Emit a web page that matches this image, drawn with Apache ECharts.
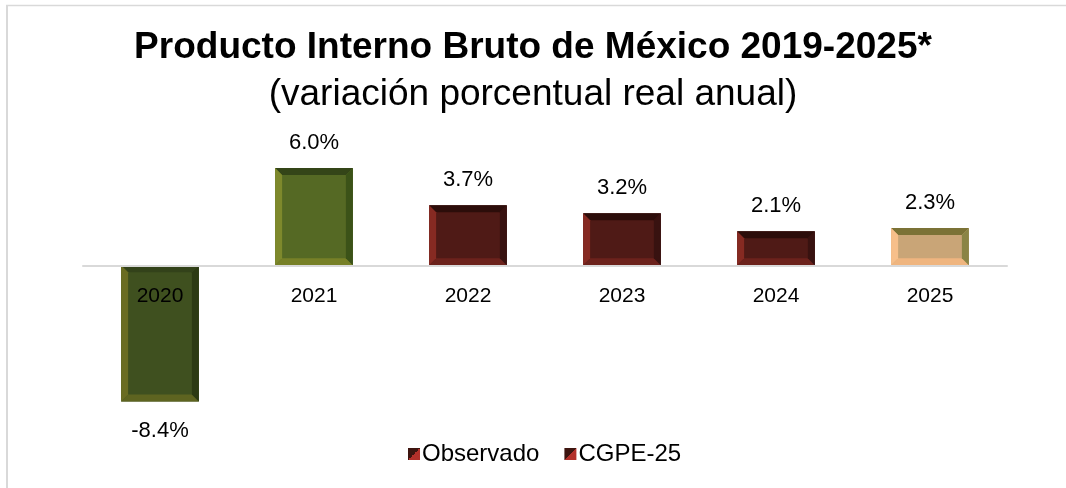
<!DOCTYPE html>
<html>
<head>
<meta charset="utf-8">
<script src="https://cdn.jsdelivr.net/npm/echarts@6/dist/echarts.min.js"></script>
<style>html,body{margin:0;padding:0;background:#fff;}#c{width:1066px;height:488px;}</style>
</head>
<body>
<div id="c"></div>
<script>
// ---- data ----
const categories = ['2020', '2021', '2022', '2023', '2024', '2025'];
const values = [-8.4, 6.0, 3.7, 3.2, 2.1, 2.3];
const seriesOf = ['Observado', 'Observado', 'CGPE-25', 'CGPE-25', 'CGPE-25', 'CGPE-25'];
const seriesNames = ['Observado', 'CGPE-25'];

// ---- styles (per bar) : face, top, left, right, bottom ----
const palette = [
  {face:'#3f501f', top:'#33421a', left:'#6a6c22', right:'#2c3a13', bottom:'#5e6420'},
  {face:'#556924', top:'#344518', left:'#7e892c', right:'#3b5218', bottom:'#778027'},
  {face:'#4f1a16', top:'#2c0d0a', left:'#862a22', right:'#381210', bottom:'#6c221c'},
  {face:'#4f1a16', top:'#2c0d0a', left:'#862a22', right:'#381210', bottom:'#6c221c'},
  {face:'#4f1a16', top:'#2c0d0a', left:'#862a22', right:'#381210', bottom:'#6c221c'},
  {face:'#c9a577', top:'#7b7236', left:'#f7bf8a', right:'#8a8445', bottom:'#efb57f'}
];
const FONT = 'Liberation Sans, Arial, sans-serif';
const legendIcon = {type:'linear', x:0, y:0, x2:1, y2:1, colorStops:[
  {offset:0, color:'#3d1510'},{offset:0.5, color:'#3d1510'},
  {offset:0.5, color:'#b3302a'},{offset:1, color:'#b3302a'}]};

function renderBar(params, api) {
  const idx = api.value(0);
  const v = api.value(1);
  const p0 = api.coord([idx, 0]);
  const p1 = api.coord([idx, v]);
  const w = api.size([1, 0])[0] * 0.505;
  const x0 = p0[0] - w / 2, x1 = p0[0] + w / 2;
  const yt = Math.min(p0[1], p1[1]), yb = Math.max(p0[1], p1[1]);
  const b = 7;
  const c = palette[idx];
  const poly = (pts, col) => ({type:'polygon', shape:{points:pts}, style:{fill:col}});
  const children = [
    {type:'rect', shape:{x:x0, y:yt, width:w, height:yb-yt}, style:{fill:c.face}},
    poly([[x0,yt],[x1,yt],[x1-b,yt+b],[x0+b,yt+b]], c.top),
    poly([[x0,yb],[x1,yb],[x1-b,yb-b],[x0+b,yb-b]], c.bottom),
    poly([[x0,yt],[x0+b,yt+b],[x0+b,yb-b],[x0,yb]], c.left),
    poly([[x1,yt],[x1-b,yt+b],[x1-b,yb-b],[x1,yb]], c.right),
    {type:'text', x:p0[0], y: v >= 0 ? yt - 25 : yb + 29, z2:5,
     style:{text: v.toFixed(1) + '%', align:'center', verticalAlign:'middle',
            fontSize:22, fontFamily:FONT, fill:'#000'}},
    {type:'text', x:p0[0], y: p0[1] + 31, z2:5,
     style:{text: categories[idx], align:'center', verticalAlign:'middle',
            fontSize:21, fontFamily:FONT, fill:'#000'}}
  ];
  return {type:'group', children};
}

const series = seriesNames.map(name => ({
  name,
  type:'custom',
  renderItem: renderBar,
  encode:{x:0, y:1},
  itemStyle:{color: legendIcon},
  z: 2,
  data: categories.map((c, i) => seriesOf[i] === name ? [i, values[i]] : null).filter(d => d)
}));

const chart = echarts.init(document.getElementById('c'), null, {renderer:'canvas'});
chart.setOption({
  animation:false,
  backgroundColor:'#fff',
  title:[
    {text:'Producto Interno Bruto de México 2019-2025*', left:'center', top:29, padding:0,
     textStyle:{fontSize:37, fontWeight:'bold', color:'#000', fontFamily:FONT}},
    {text:'(variación porcentual real anual)', left:'center', top:76, padding:0,
     textStyle:{fontSize:37, fontWeight:'normal', color:'#000', fontFamily:FONT}}
  ],
  legend:{
    bottom:17, left:403, itemWidth:12, itemHeight:12, itemGap:25,
    icon:'rect',
    textStyle:{fontSize:24, color:'#000', fontFamily:FONT, padding:[0,0,0,-3]},
    data: seriesNames.map(n => ({name:n, itemStyle:{color: legendIcon}}))
  },
  grid:{left:83, right:59, top:135.5, bottom:60.5},
  xAxis:{
    type:'category', data:categories, z:10,
    axisLine:{onZero:true, lineStyle:{color:'#d9d9d9', width:2}},
    axisTick:{show:false},
    axisLabel:{show:false}
  },
  yAxis:{
    type:'value', min:-10, max:8, interval:2, show:false, splitLine:{show:false}
  },
  graphic:[
    {type:'line', shape:{x1:7, y1:5, x2:7, y2:488}, style:{stroke:'#d9d9d9', lineWidth:2}},
    {type:'line', shape:{x1:6, y1:5.5, x2:1066, y2:5.5}, style:{stroke:'#d9d9d9', lineWidth:1.5}}
  ],
  series
});
</script>
</body>
</html>
